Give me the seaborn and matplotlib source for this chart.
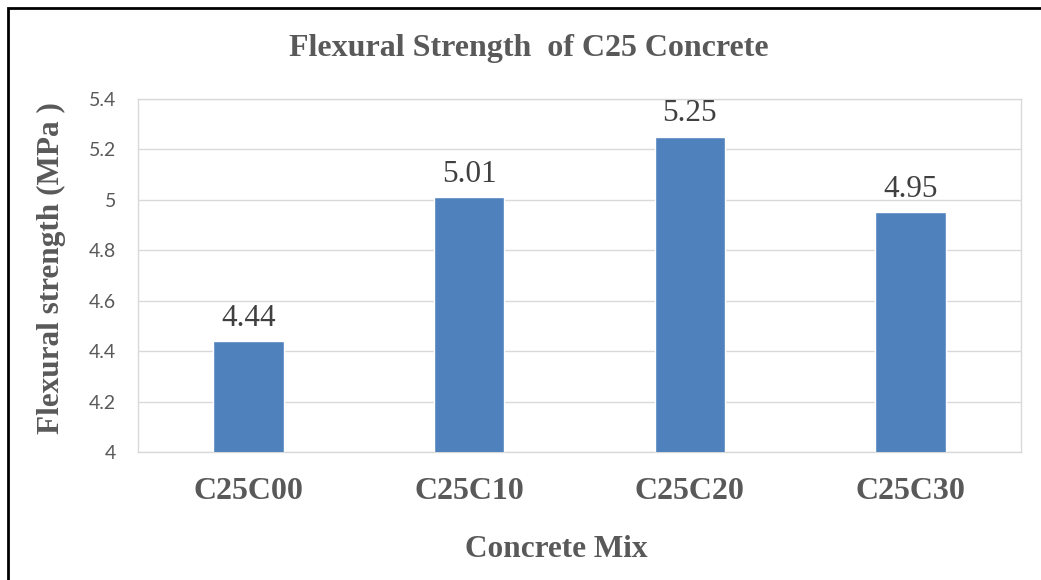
import pandas as pd
import numpy as np
import matplotlib.pyplot as plt
import seaborn as sb
from matplotlib.patches import Rectangle

# data
mixes = ["C25C00", "C25C10", "C25C20", "C25C30"]
strength = [4.44, 5.01, 5.25, 4.95]
y_ticks = [4, 4.2, 4.4, 4.6, 4.8, 5, 5.2, 5.4]
y_tick_labels = ["4", "4.2", "4.4", "4.6", "4.8", "5", "5.2", "5.4"]

sb.set_style("white")
plt.rcParams['font.family'] = ['Liberation Serif', 'DejaVu Serif']

grey = "#595959"
df = pd.DataFrame({"Mix": mixes, "Strength": strength})

fig = plt.figure(figsize=(10.41, 5.8), dpi=100)
ax = fig.add_axes([0.1326, 0.2207, 0.8482, 0.6086])

sb.barplot(data=df, x="Mix", y="Strength", color="#4f81bd", width=0.32,
           saturation=1, ax=ax, zorder=3)

ax.set_ylim(4, 5.4)
ax.set_yticks(y_ticks)
ax.set_yticklabels(y_tick_labels, family=['Lato', 'DejaVu Sans'],
                   fontsize=14, color=grey)
ax.set_xticks(range(len(mixes)))
ax.set_xticklabels(mixes, fontsize=23, fontweight='bold', color=grey)
ax.tick_params(axis='both', length=0)
ax.tick_params(axis='x', pad=18)
ax.tick_params(axis='y', pad=16)
ax.set_xlim(-0.5, len(mixes) - 0.5)

#grid and frame
ax.yaxis.grid(True, color="#d9d9d9", linewidth=1)
ax.set_axisbelow(True)
for side in ["left", "right", "top", "bottom"]:
    ax.spines[side].set_visible(True)
    ax.spines[side].set_color("#d9d9d9")
    ax.spines[side].set_linewidth(1)

#value labels on bars
for container in ax.containers:
    ax.bar_label(container, labels=[f"{v:.2f}" for v in strength],
                 fontsize=22.5, color="#404040", padding=6)

ax.set_xlabel("Concrete Mix", fontsize=22.5, fontweight='bold', color=grey)
ax.xaxis.set_label_coords(0.474, -0.235)
ax.set_ylabel("Flexural strength (MPa )", fontsize=22.5, fontweight='bold',
              color=grey)
ax.yaxis.set_label_coords(-0.082, 0.521)

fig.text(0.508, 0.917, "Flexural Strength  of C25 Concrete", ha='center',
         va='center', fontsize=23, fontweight='bold', color=grey)

#outer black border of the chart box (right and bottom edges are off the picture)
fig.patches.append(Rectangle((8 / 1041, -0.05), 1.1, 1.05 - 8 / 580,
                             transform=fig.transFigure, fill=False,
                             edgecolor="black", linewidth=2))

plt.savefig("out.png", dpi=100)
